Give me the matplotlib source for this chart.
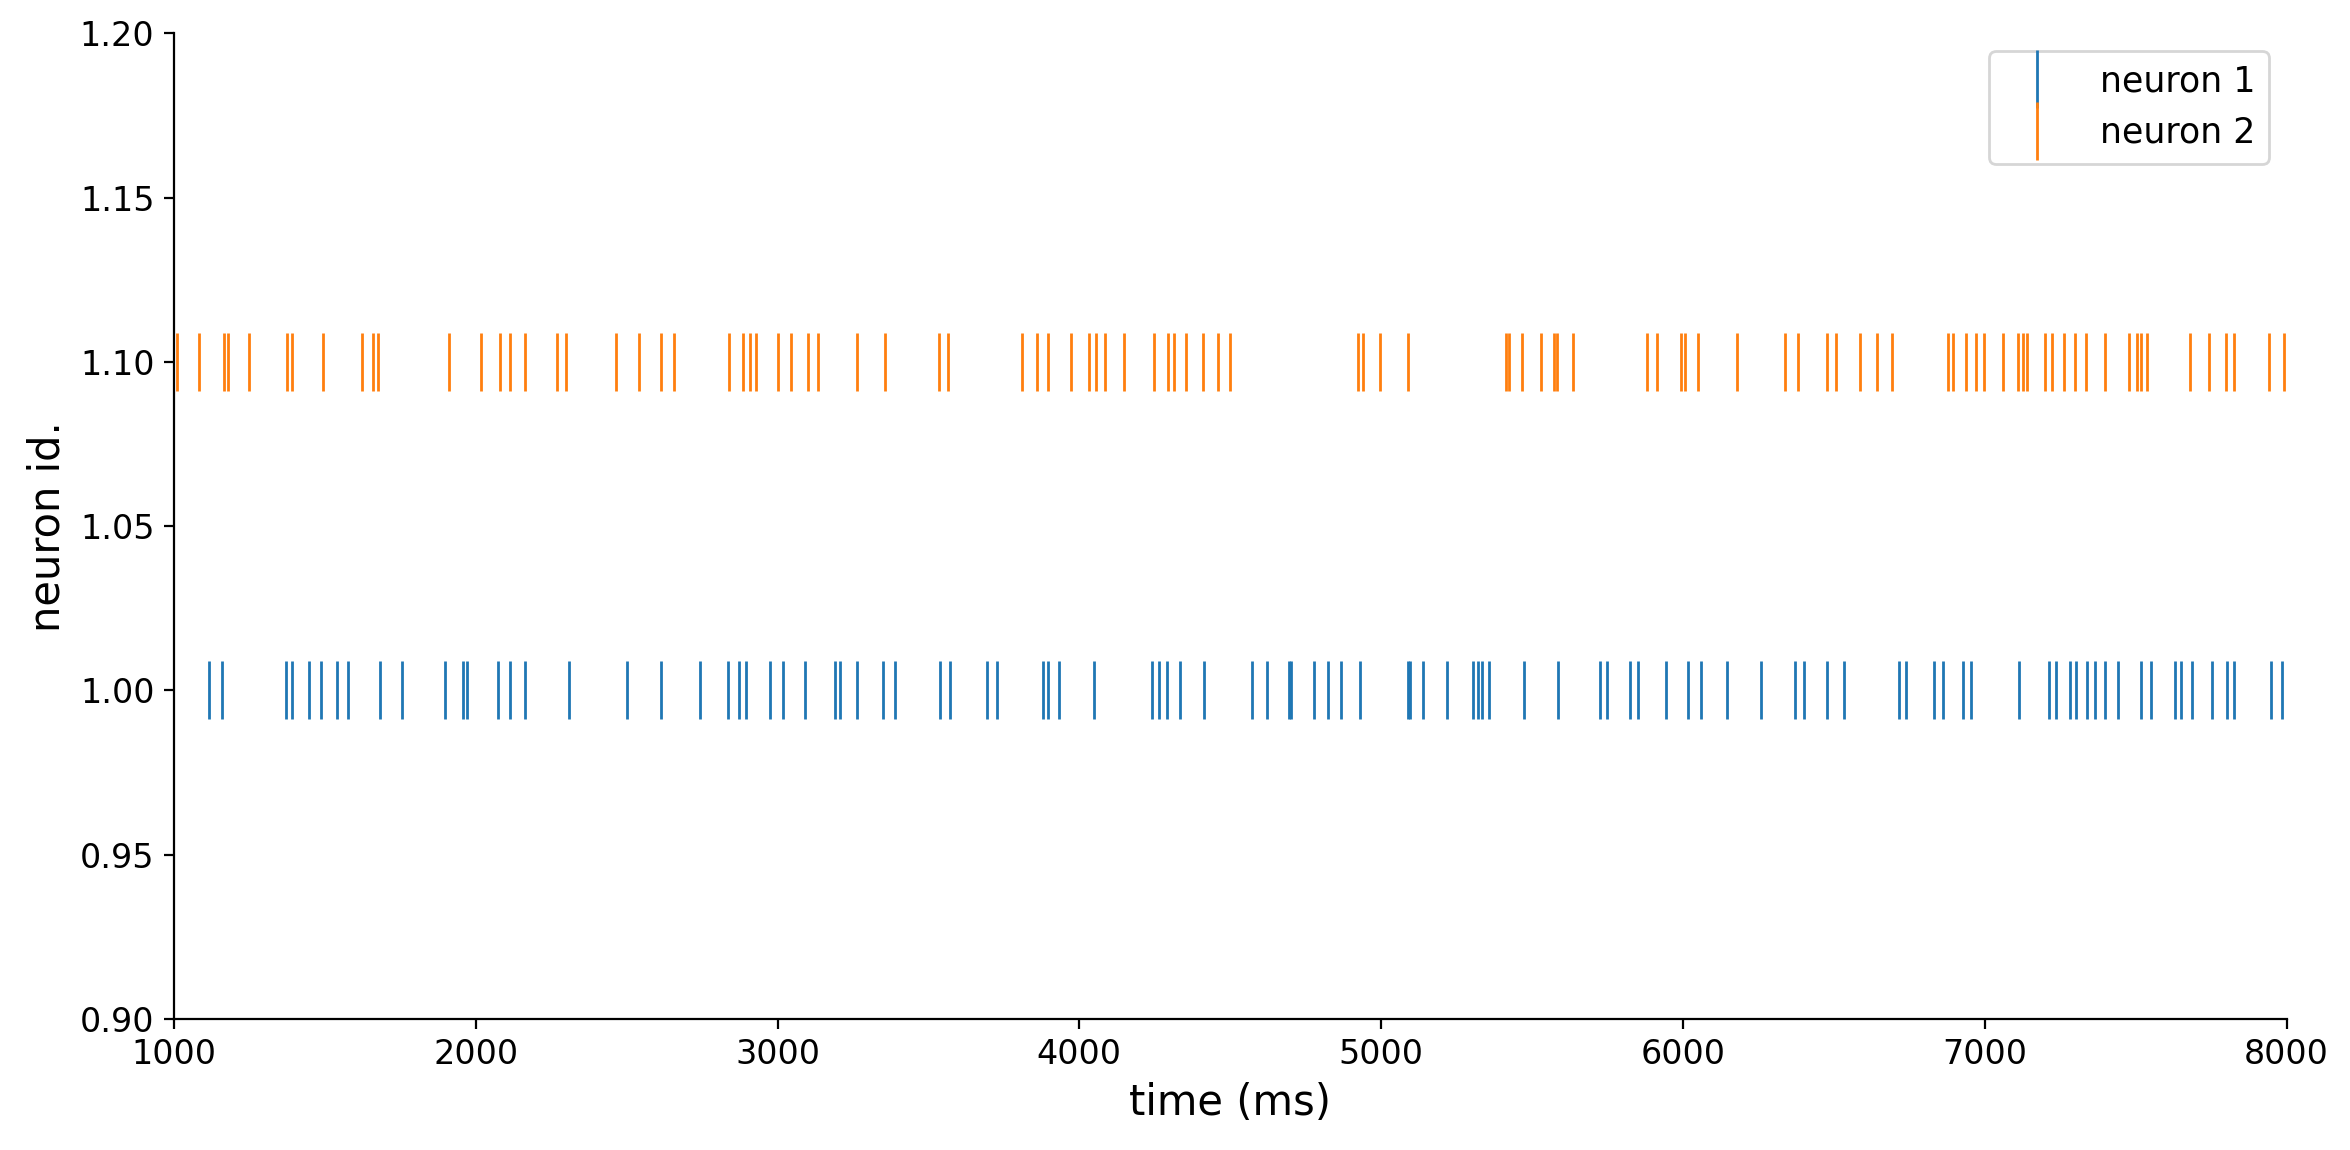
import matplotlib

matplotlib.use("Agg")
import matplotlib.pyplot as plt

# spike times (ms)
neuron1_times = [
    1115.7, 1159.0, 1371.3, 1390.7, 1447.8, 1487.7, 1540.2, 1576.7, 1682.9, 1755.9,
    1897.4, 1957.9, 1972.7, 2073.1, 2113.1, 2163.4, 2309.4, 2501.1, 2614.2, 2744.0,
    2836.6, 2872.0, 2895.9, 2974.7, 3018.1, 3091.1, 3190.4, 3206.3, 3263.4, 3349.0,
    3388.9, 3538.4, 3571.5, 3694.8, 3726.8, 3879.7, 3895.6, 3933.3, 4048.6, 4240.3,
    4264.3, 4290.5, 4333.9, 4412.6, 4572.5, 4622.7, 4695.7, 4702.5, 4777.9, 4824.7,
    4866.9, 4930.8, 5090.6, 5096.3, 5138.5, 5218.4, 5305.1, 5321.1, 5334.8, 5357.6,
    5474.0, 5585.9, 5725.1, 5749.1, 5823.3, 5851.8, 5945.4, 6017.3, 6060.6, 6146.2,
    6257.0, 6371.3, 6401.5, 6478.2, 6534.0, 6716.5, 6739.7, 6831.6, 6861.8, 6929.2,
    6954.8, 7114.0, 7214.0, 7237.2, 7282.6, 7303.5, 7339.5, 7365.1, 7398.8, 7441.8,
    7518.5, 7551.1, 7631.3, 7651.1, 7687.1, 7753.6, 7803.3, 7824.3, 7948.6, 7985.8,
]
neuron2_times = [
    1009.5, 1082.6, 1165.9, 1178.4, 1249.2, 1374.7, 1390.7, 1493.4, 1623.5, 1660.1,
    1676.0, 1911.1, 2017.3, 2080.0, 2113.1, 2163.4, 2269.5, 2299.2, 2464.6, 2541.1,
    2614.2, 2657.5, 2838.9, 2885.7, 2908.5, 2929.0, 3000.9, 3044.3, 3101.4, 3134.5,
    3263.4, 3355.9, 3535.0, 3564.7, 3810.1, 3860.3, 3895.6, 3973.3, 4032.6, 4055.4,
    4085.1, 4147.9, 4247.2, 4293.9, 4314.5, 4353.3, 4410.3, 4459.4, 4499.4, 4924.0,
    4939.9, 4997.0, 5089.4, 5414.7, 5423.8, 5467.2, 5529.9, 5573.3, 5582.4, 5636.1,
    5881.4, 5914.5, 5994.4, 6007.0, 6050.3, 6179.3, 6338.7, 6381.7, 6478.2, 6507.3,
    6587.5, 6643.3, 6693.2, 6878.1, 6895.5, 6938.5, 6972.2, 6997.8, 7060.6, 7110.3,
    7128.0, 7140.7, 7200.0, 7223.3, 7262.8, 7298.8, 7336.0, 7398.8, 7477.8, 7505.7,
    7518.5, 7538.3, 7681.3, 7742.9, 7799.8, 7824.3, 7942.8, 7992.8,
]
neuron_ids = [1.0, 1.1]
labels = ["neuron 1", "neuron 2"]

fig, ax = plt.subplots(figsize=(11.75, 5.75), dpi=200)
fig.subplots_adjust(left=0.074, right=0.973, top=0.971, bottom=0.114)

for times, nid, label in zip([neuron1_times, neuron2_times], neuron_ids, labels):
    ax.plot(times, [nid] * len(times), "|", ms=21, mew=1.0, label=label)

ax.set_xlim(1000, 8000)
ax.set_ylim(0.9, 1.2)
ax.set_xlabel("time (ms)", fontsize=15)
ax.set_ylabel("neuron id.", fontsize=15)
ax.tick_params(labelsize=12)
ax.spines["top"].set_visible(False)
ax.spines["right"].set_visible(False)
ax.legend(loc="upper right", fontsize=12.5, numpoints=1)

fig.savefig("out.png", dpi=200)
